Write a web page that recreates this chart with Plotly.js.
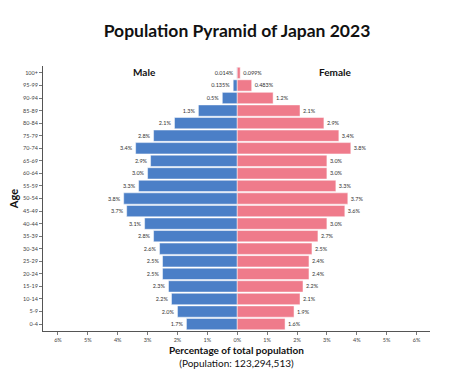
<!DOCTYPE html>
<html>
<head>
<meta charset="utf-8">
<script src="https://cdn.plot.ly/plotly-3.0.1.min.js"></script>
<style>html,body{margin:0;padding:0;background:#fff;}#chart{width:474px;height:377px;}</style>
</head>
<body>
<div id="chart"></div>
<script>
const ageGroups = ["0-4","5-9","10-14","15-19","20-24","25-29","30-34","35-39","40-44","45-49","50-54","55-59","60-64","65-69","70-74","75-79","80-84","85-89","90-94","95-99","100+"];
const malePct   = [1.7,2.0,2.2,2.3,2.5,2.5,2.6,2.8,3.1,3.7,3.8,3.3,3.0,2.9,3.4,2.8,2.1,1.3,0.5,0.135,0.014];
const femalePct = [1.6,1.9,2.1,2.2,2.4,2.4,2.5,2.7,3.0,3.6,3.7,3.3,3.0,3.0,3.8,3.4,2.9,2.1,1.2,0.483,0.099];
const tickVals = [-6,-5,-4,-3,-2,-1,0,1,2,3,4,5,6];
const tickText = ["6%","5%","4%","3%","2%","1%","0%","1%","2%","3%","4%","5%","6%"];

function fmt(v){
  const t = v*10;
  return (Math.abs(t - Math.round(t)) < 1e-9 ? v.toFixed(1) : String(v)) + "%";
}

const FONT = "Lato, 'Open Sans', sans-serif";
const labelFont = {family: FONT, size: 5.5, color: "#333"};

const male = {
  type: "bar", orientation: "h", name: "Male",
  y: ageGroups, x: malePct.map(v => -v),
  text: malePct.map(fmt), textposition: "outside", textfont: labelFont,
  cliponaxis: false, hoverinfo: "skip",
  marker: {color: "#4b7fc7", line: {color: "rgba(255,255,255,0.8)", width: 0.6}}
};
const female = {
  type: "bar", orientation: "h", name: "Female",
  y: ageGroups, x: femalePct,
  text: femalePct.map(fmt), textposition: "outside", textfont: labelFont,
  cliponaxis: false, hoverinfo: "skip",
  marker: {color: "#ef7b8b", line: {color: "rgba(255,255,255,0.8)", width: 0.6}}
};

const layout = {
  width: 474, height: 377,
  margin: {l: 43, r: 44, t: 66, b: 46},
  paper_bgcolor: "#fff", plot_bgcolor: "#fff",
  barmode: "overlay", bargap: 0.1,
  showlegend: false,
  font: {family: FONT, color: "#222"},
  title: {text: "<b>Population Pyramid of Japan 2023</b>", x: 0.5, xanchor: "center", y: 0.918, yanchor: "middle",
          font: {family: FONT, size: 17.5, color: "#111"}},
  xaxis: {
    range: [-6.5, 6.45], tickvals: tickVals, ticktext: tickText,
    tickfont: {family: FONT, size: 5.5, color: "#444"},
    ticks: "outside", ticklen: 3, tickcolor: "#555", tickwidth: 0.8,
    showline: true, linecolor: "#555", linewidth: 1,
    showgrid: false, zeroline: false, fixedrange: true,
    title: {text: "<b>Percentage of total population</b><br><span style='font-weight:normal'>(Population: 123,294,513)</span>",
            font: {family: FONT, size: 10, color: "#111"}, standoff: 5}
  },
  yaxis: {
    type: "category", range: [-0.55, 20.55],
    tickfont: {family: FONT, size: 5.5, color: "#444"},
    ticks: "outside", ticklen: 3, tickcolor: "#555", tickwidth: 0.8,
    showline: true, linecolor: "#555", linewidth: 1,
    showgrid: false, zeroline: false, fixedrange: true,
    title: {text: "<b>Age</b>", font: {family: FONT, size: 11, color: "#111"}, standoff: 2}
  },
  annotations: [
    {text: "<b>Male</b>", x: -3.1, y: 20, xref: "x", yref: "y", showarrow: false, yshift: 1,
     font: {family: FONT, size: 10, color: "#111"}},
    {text: "<b>Female</b>", x: 3.28, y: 20, xref: "x", yref: "y", showarrow: false, yshift: 1,
     font: {family: FONT, size: 10, color: "#111"}}
  ]
};

Plotly.newPlot("chart", [male, female], layout, {staticPlot: true, displayModeBar: false});
</script>
</body>
</html>
